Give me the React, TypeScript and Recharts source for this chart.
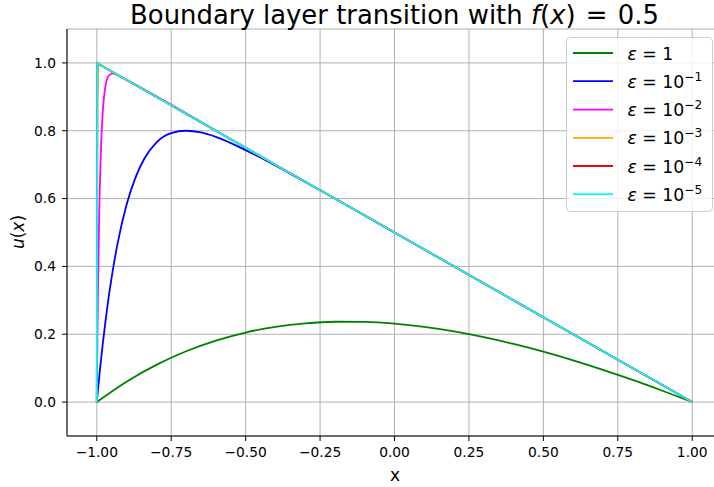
import React from 'react';
import { LineChart, Line, XAxis, YAxis, CartesianGrid } from 'recharts';

// ε = 1
const eps1X = [-1, -0.9, -0.8, -0.7, -0.6, -0.5, -0.4, -0.3, -0.2, -0.1, 0, 0.1, 0.2, 0.3, 0.4, 0.5, 0.6, 0.7, 0.8, 0.9, 1];
const eps1U = [0, 0.0601, 0.1096, 0.1498, 0.1813, 0.2051, 0.2218, 0.2322, 0.2369, 0.2363, 0.2311, 0.2216, 0.2082, 0.1913, 0.1713, 0.1485, 0.123, 0.0952, 0.0654, 0.0335, 0];
// ε = 10^-1
const eps2X = [-1, -0.99, -0.98, -0.97, -0.96, -0.95, -0.93, -0.9, -0.87, -0.84, -0.8, -0.75, -0.7, -0.65, -0.6, -0.5, -0.4, -0.3, -0.2, 0, 0.5, 1];
const eps2U = [0, 0.090, 0.171, 0.244, 0.310, 0.368, 0.468, 0.582, 0.662, 0.718, 0.765, 0.793, 0.800, 0.795, 0.782, 0.743, 0.698, 0.649, 0.600, 0.5, 0.25, 0];
// ε = 10^-2
const eps3X = [-1, -0.998, -0.996, -0.994, -0.992, -0.99, -0.985, -0.98, -0.975, -0.97, -0.96, -0.947, -0.93, -0.9, -0.5, 0, 1];
const eps3U = [0, 0.180, 0.328, 0.448, 0.547, 0.627, 0.769, 0.855, 0.905, 0.935, 0.962, 0.969, 0.964, 0.950, 0.75, 0.5, 0];
// ε = 10^-3
const eps4X = [-1, -0.998, -0.996, -0.994, -0.99, 1];
const eps4U = [0, 0.864, 0.980, 0.995, 0.995, 0];
// ε = 10^-4
const eps5X = [-1, -0.998, -0.996, 1];
const eps5U = [0, 0.999, 0.998, 0];
// ε = 10^-5
const eps6X = [-1, -0.998, 1];
const eps6U = [0, 0.999, 0];

const xTicks = [-1, -0.75, -0.5, -0.25, 0, 0.25, 0.5, 0.75, 1];
const yTicks = [0, 0.2, 0.4, 0.6, 0.8, 1.0];

const zip = (xs: number[], us: number[]) => xs.map((x, i) => ({ x, u: us[i] }));

const series = [
  { key: 'e1', exp: '', color: '#008000', data: zip(eps1X, eps1U), curve: 'monotone' },
  { key: 'e2', exp: '−1', color: '#0000ff', data: zip(eps2X, eps2U), curve: 'monotone' },
  { key: 'e3', exp: '−2', color: '#ff00ff', data: zip(eps3X, eps3U), curve: 'monotone' },
  { key: 'e4', exp: '−3', color: '#ffa500', data: zip(eps4X, eps4U), curve: 'linear' },
  { key: 'e5', exp: '−4', color: '#ff0000', data: zip(eps5X, eps5U), curve: 'linear' },
  { key: 'e6', exp: '−5', color: '#00ffff', data: zip(eps6X, eps6U), curve: 'linear' },
];

const FONT = '"DejaVu Sans", sans-serif';
const fmtX = (v: number) => v.toFixed(2).replace('-', '−');
const fmtY = (v: number) => v.toFixed(1).replace('-', '−');

export default function App() {
  const legendTop = 37.5;
  const rowY = [53, 81.2, 109.6, 137.8, 166, 194.2];
  return (
    <div style={{ position: 'absolute', left: 0, top: 0, width: 714, height: 487, overflow: 'hidden', background: '#fff', fontFamily: FONT }}>
      <LineChart width={730} height={487} margin={{ top: 29, right: 8, bottom: 0, left: 0 }}>
        <CartesianGrid stroke="#b0b0b0" strokeWidth={1} />
        <XAxis
          dataKey="x"
          type="number"
          domain={[-1.1, 1.1]}
          ticks={xTicks}
          tickFormatter={fmtX}
          height={51}
          allowDataOverflow
          tickSize={5}
          tickMargin={6}
          axisLine={{ stroke: '#000', strokeWidth: 1 }}
          tickLine={{ stroke: '#000' }}
          tick={{ fill: '#000', fontSize: 13.8, fontFamily: FONT }}
        />
        <XAxis
          xAxisId="top"
          orientation="top"
          dataKey="x"
          type="number"
          domain={[-1.1, 1.1]}
          height={0}
          tick={false}
          tickLine={false}
          axisLine={{ stroke: '#000', strokeWidth: 1 }}
        />
        <YAxis
          type="number"
          domain={[-0.1, 1.1]}
          ticks={yTicks}
          tickFormatter={fmtY}
          width={67}
          allowDataOverflow
          tickSize={5}
          tickMargin={6}
          axisLine={{ stroke: '#000', strokeWidth: 1 }}
          tickLine={{ stroke: '#000' }}
          tick={{ fill: '#000', fontSize: 13.8, fontFamily: FONT }}
        />
        <YAxis
          yAxisId="right"
          orientation="right"
          type="number"
          domain={[-0.1, 1.1]}
          width={0}
          tick={false}
          tickLine={false}
          axisLine={{ stroke: '#000', strokeWidth: 1 }}
        />
        {series.map((s) => (
          <Line
            key={s.key}
            data={s.data}
            dataKey="u"
            type={s.curve as any}
            stroke={s.color}
            strokeWidth={1.8}
            dot={false}
            activeDot={false}
            isAnimationActive={false}
          />
        ))}
      </LineChart>
      <svg width={714} height={487} style={{ position: 'absolute', left: 0, top: 0, pointerEvents: 'none', fontFamily: FONT }}>
        <text x={394.5} y={24} textAnchor="middle" fontSize={25.9} fill="#000" style={{ whiteSpace: 'pre' }}>
          Boundary layer transition with <tspan fontStyle="italic">f</tspan>(<tspan fontStyle="italic">x</tspan>)<tspan dx={2}> = </tspan><tspan dx={2}>0.5</tspan>
        </text>
        <text x={395} y={481} textAnchor="middle" fontSize={17} fill="#000">x</text>
        <text x={23.5} y={232} textAnchor="middle" fontSize={17} fill="#000" transform="rotate(-90 23.5 232)">
          <tspan fontStyle="italic">u</tspan>(<tspan fontStyle="italic">x</tspan>)
        </text>
        <rect x={566.5} y={legendTop} width={146} height={174} rx={4} ry={4} fill="#fff" fillOpacity={0.8} stroke="#cccccc" strokeWidth={1} />
        {series.map((s, i) => (
          <g key={s.key}>
            <line x1={573} x2={613} y1={rowY[i]} y2={rowY[i]} stroke={s.color} strokeWidth={1.8} />
            <text x={627.5} y={rowY[i] + 6.5} fontSize={17.3} fill="#000" style={{ whiteSpace: 'pre' }}>
              <tspan fontStyle="italic">ε</tspan>
              <tspan> = </tspan>
              {s.exp === '' ? (
                <tspan>1</tspan>
              ) : (
                <>
                  <tspan>10</tspan>
                  <tspan dy={-7} fontSize={12.2}>{s.exp}</tspan>
                </>
              )}
            </text>
          </g>
        ))}
      </svg>
    </div>
  );
}
